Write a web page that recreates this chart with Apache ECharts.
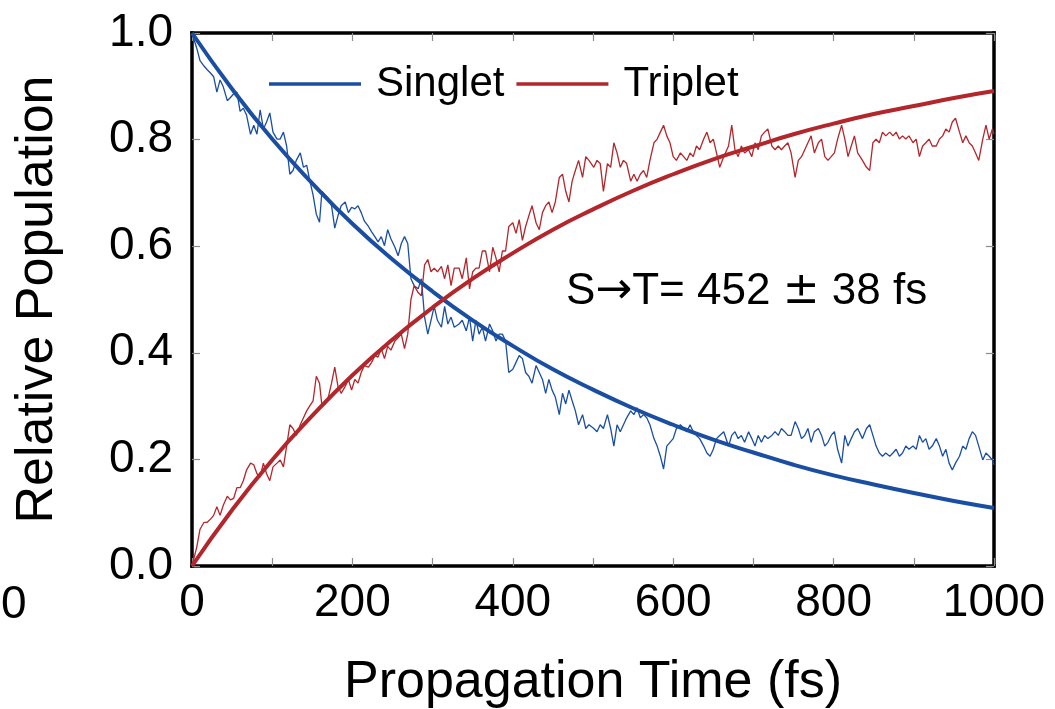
<!DOCTYPE html>
<html>
<head>
<meta charset="utf-8">
<script src="https://cdn.jsdelivr.net/npm/echarts@6/dist/echarts.min.js"></script>
<style>
html,body{margin:0;padding:0;background:#fff;}
#c{width:1055px;height:709px;}
</style>
</head>
<body>
<div id="c"></div>
<script>
// ---- data ----
const time = [
0,6,10,15,19,23,27,31,35,39,44,48,52,56,60,64,68,73,77,81,85,89,93,97,101,106,110,114,118,122,126,130,135,139,143,147,151,155,159,
162,166,170,174,178,182,186,191,195,199,203,207,211,215,220,224,228,232,236,240,244,248,253,257,261,265,269,273,277,282,286,290,294,298,302,306,311,315,319,323,327,
333,337,342,346,350,354,358,362,366,371,375,379,383,387,391,395,400,404,408,412,416,420,424,429,433,437,441,445,449,453,458,462,466,470,474,478,482,487,491,495,
501,505,509,513,518,522,526,530,534,538,542,547,551,555,559,563,567,571,576,580,584,588,592,596,600,604,609,613,617,621,625,629,633,638,642,646,650,654,658,663,
669,673,677,681,685,689,694,698,702,706,710,714,718,723,727,731,735,739,743,747,752,756,760,764,768,772,776,781,785,789,793,797,801,805,810,814,818,822,826,830,
836,841,845,849,853,857,861,865,870,874,878,882,886,890,894,899,903,907,911,915,919,923,928,932,936,940,944,948,952,957,961,965,969,973,977,981,986,990,994,998,1000
];
const singletRaw = [
1.0,.971,.948,.938,.931,.925,.918,.889,.912,.899,.873,.879,.886,.889,.853,.859,.846,.810,.827,.810,.856,.820,.833,.850,.814,.801,.801,.814,.788,.735,.742,.761,.775,.748,.752,.722,.696,.660,.645,
.703,.696,.690,.676,.634,.657,.676,.683,.663,.673,.670,.676,.663,.647,.637,.627,.618,.608,.618,.601,.631,.614,.598,.582,.605,.618,.605,.539,.526,.520,.539,.467,.435,.461,.487,.461,.448,.487,.454,.467,.448,
.454,.461,.441,.467,.422,.461,.435,.448,.422,.454,.441,.422,.435,.435,.422,.363,.369,.382,.395,.389,.363,.356,.343,.376,.363,.350,.324,.350,.330,.317,.284,.324,.304,.330,.310,.291,.265,.284,.258,.265,
.258,.252,.265,.258,.284,.258,.225,.265,.252,.265,.278,.291,.284,.297,.278,.284,.278,.265,.239,.225,.206,.182,.225,.232,.239,.258,.265,.258,.252,.265,.252,.245,.239,.225,.212,.206,.219,.239,.245,.252,
.225,.245,.252,.239,.245,.232,.252,.239,.225,.245,.232,.245,.239,.245,.252,.245,.258,.252,.245,.245,.271,.258,.239,.245,.258,.232,.252,.258,.245,.225,.232,.245,.252,.219,.193,.245,.225,.239,.252,.258,
.239,.258,.265,.245,.225,.212,.206,.212,.206,.212,.219,.206,.212,.225,.219,.225,.219,.245,.232,.239,.219,.225,.239,.225,.206,.219,.193,.180,.193,.206,.225,.219,.239,.252,.245,.225,.199,.212,.206,.199,.190
];
const tripletRaw = [
0,.036,.069,.082,.082,.088,.095,.111,.095,.114,.131,.124,.127,.147,.147,.160,.180,.193,.190,.173,.167,.193,.173,.160,.186,.193,.199,.186,.225,.265,.258,.245,.265,.278,.291,.301,.310,.356,.343,
.301,.304,.317,.343,.373,.337,.324,.337,.350,.330,.350,.343,.363,.376,.373,.382,.395,.392,.408,.389,.412,.405,.422,.428,.435,.408,.435,.500,.526,.513,.507,.565,.575,.552,.559,.552,.562,.539,.565,.526,.559,
.559,.539,.578,.520,.552,.559,.559,.591,.591,.552,.598,.578,.552,.591,.591,.637,.644,.624,.650,.611,.637,.657,.676,.644,.631,.663,.676,.683,.663,.683,.729,.735,.703,.683,.722,.742,.761,.729,.768,.761,
.748,.761,.755,.703,.755,.748,.794,.775,.748,.761,.755,.722,.735,.722,.735,.742,.729,.761,.794,.801,.814,.827,.807,.794,.768,.761,.775,.768,.761,.775,.768,.788,.781,.801,.814,.794,.801,.775,.748,.768,
.788,.827,.781,.768,.788,.775,.781,.768,.794,.781,.807,.814,.820,.788,.781,.788,.781,.788,.794,.775,.729,.761,.768,.781,.794,.807,.775,.794,.801,.768,.761,.768,.775,.801,.827,.801,.768,.788,.807,.775,
.761,.748,.742,.794,.801,.794,.814,.807,.814,.807,.814,.801,.807,.801,.807,.794,.801,.768,.788,.794,.801,.788,.788,.801,.807,.820,.814,.833,.840,.814,.794,.807,.794,.788,.775,.761,.801,.827,.801,.820,.810
];
const fitTime = [0,50,100,150,200,250,300,350,400,450,500,550,600,650,700,750,800,850,900,950,1000];
const singletFit = [1.0,.895,.801,.718,.642,.575,.515,.461,.413,.369,.331,.296,.265,.237,.213,.190,.170,.153,.137,.122,.109];
const tripletFit = [0,.105,.199,.282,.358,.425,.485,.539,.587,.631,.669,.704,.735,.763,.787,.810,.830,.848,.863,.878,.891];
const seriesNames = ['Singlet','Triplet'];
const xTitle = 'Propagation Time (fs)';
const yTitle = 'Relative Population';
const annoParts = ['S', '\u2192', 'T= 452 ', '\u00B1', ' 38 fs'];
const strayLabel = '0';

const BLUE = '#1a4ea3';
const RED = '#b3262b';
const FONT = '"Liberation Sans", Arial, sans-serif';

const pair = (xs, ys) => xs.map((x, i) => [x, ys[i]]);

const chart = echarts.init(document.getElementById('c'), null, {renderer: 'canvas'});
const tickStyle = {show: true, inside: true, length: 8, lineStyle: {color: '#8c8c8c', width: 1.2}};
const frameLine = {show: true, onZero: false, lineStyle: {color: '#000', width: 3.5, cap: 'square'}};
chart.setOption({
  animation: false,
  backgroundColor: '#fff',
  grid: {left: 192, right: 61, top: 33, bottom: 143, containLabel: false, outerBoundsMode: 'none'},
  legend: {
    left: 264, top: 58,
    data: seriesNames,
    icon: 'rect', itemWidth: 92, itemHeight: 3.5, itemGap: 12,
    textStyle: {fontFamily: FONT, fontSize: 42, color: '#000', padding: [0, 0, 0, 10]}
  },
  xAxis: [{
    type: 'value', min: 0, max: 1000, interval: 100, position: 'bottom',
    name: xTitle, nameLocation: 'middle', nameGap: 91,
    nameTextStyle: {fontFamily: FONT, fontSize: 52, color: '#000', verticalAlign: 'top'},
    axisLine: frameLine, splitLine: {show: false}, axisTick: tickStyle,
    axisLabel: {fontFamily: FONT, fontSize: 46, color: '#000', margin: 14,
      formatter: v => (v % 200 === 0 ? String(v) : '')}
  }, {
    type: 'value', min: 0, max: 1000, interval: 100, position: 'top',
    axisLine: frameLine, splitLine: {show: false}, axisTick: tickStyle, axisLabel: {show: false}
  }],
  yAxis: [{
    type: 'value', min: 0, max: 1, interval: 0.2, position: 'left',
    name: yTitle, nameLocation: 'middle', nameGap: 128, nameRotate: 90,
    nameTextStyle: {fontFamily: FONT, fontSize: 52, color: '#000'},
    axisLine: frameLine, splitLine: {show: false}, axisTick: tickStyle,
    axisLabel: {fontFamily: FONT, fontSize: 46, color: '#000', margin: 19, formatter: v => v.toFixed(1)}
  }, {
    type: 'value', min: 0, max: 1, interval: 0.2, position: 'right',
    axisLine: frameLine, splitLine: {show: false}, axisTick: tickStyle, axisLabel: {show: false}
  }],
  series: [
    {name: 'Singlet data', type: 'line', data: pair(time, singletRaw), showSymbol: false, symbol: 'none',
      lineStyle: {color: BLUE, width: 1.3}, itemStyle: {color: BLUE}, z: 2},
    {name: 'Triplet data', type: 'line', data: pair(time, tripletRaw), showSymbol: false, symbol: 'none',
      lineStyle: {color: RED, width: 1.3}, itemStyle: {color: RED}, z: 2},
    {name: seriesNames[0], type: 'line', data: pair(fitTime, singletFit), smooth: true, showSymbol: false, symbol: 'none',
      lineStyle: {color: BLUE, width: 4}, itemStyle: {color: BLUE}, z: 3},
    {name: seriesNames[1], type: 'line', data: pair(fitTime, tripletFit), smooth: true, showSymbol: false, symbol: 'none',
      lineStyle: {color: RED, width: 4}, itemStyle: {color: RED}, z: 3}
  ],
  graphic: [
    {type: 'text', left: 566, top: 270, style: {
      text: '{a|' + annoParts[0] + '}{r|' + annoParts[1] + '}{a|' + annoParts[2] + '}{p|' + annoParts[3] + '}{a|' + annoParts[4] + '}',
      rich: {
        a: {fontFamily: FONT, fontSize: 44, fill: '#000', color: '#000'},
        r: {fontFamily: '"DejaVu Sans", sans-serif', fontSize: 44, color: '#000', fill: '#000'},
        p: {fontFamily: '"DejaVu Sans", sans-serif', fontSize: 44, color: '#000', fill: '#000'}
      }
    }},
    {type: 'text', left: 1, top: 582, style: {text: strayLabel, font: '46px ' + FONT, fill: '#000'}}
  ]
});
</script>
</body>
</html>
